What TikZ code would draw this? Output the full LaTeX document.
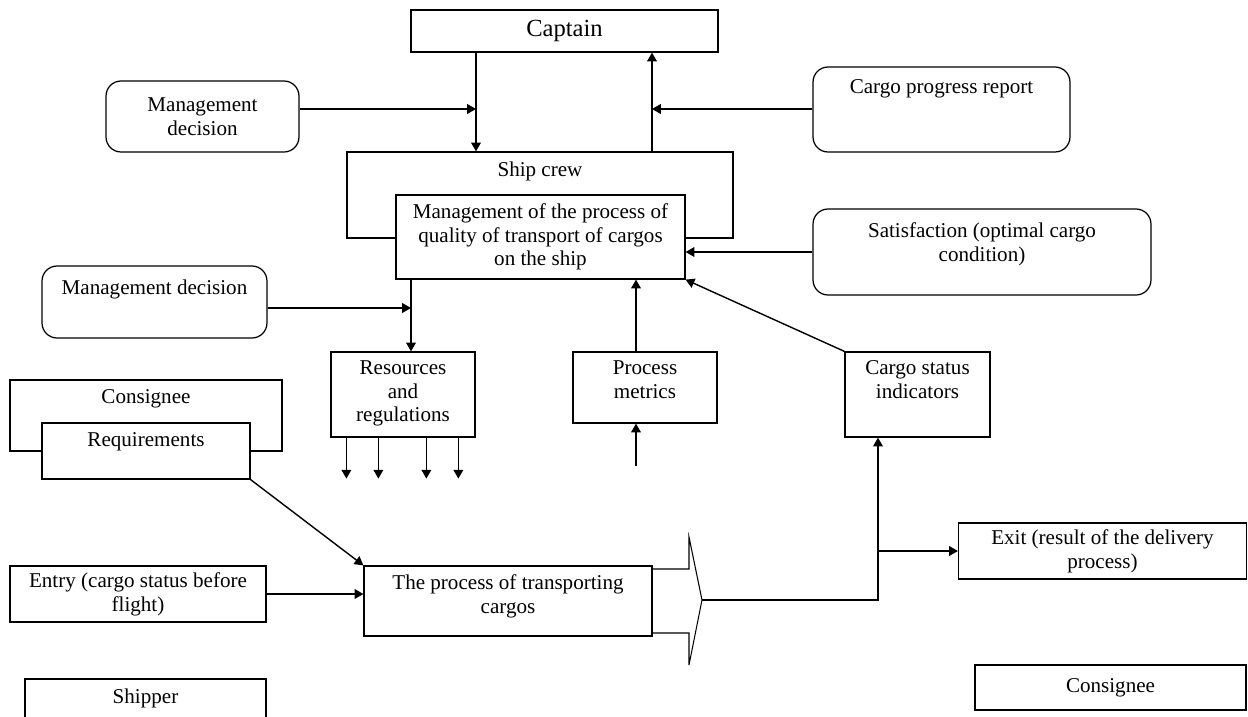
\documentclass[tikz,border=0pt]{standalone}
\usepackage{fontspec}
\setmainfont{Liberation Serif}
\usetikzlibrary{positioning,arrows.meta}

\begin{document}
\begin{tikzpicture}[x=0.02cm,y=-0.02cm,
  box/.style={draw,line width=0.7pt,inner sep=2pt,align=center,font=\fontsize{12}{13.5}\selectfont},
  rbox/.style={box,rounded corners=0.3cm},
  txt/.style={inner sep=0pt,align=center,font=\fontsize{12}{13.5}\selectfont},
  arr/.style={line width=0.8pt,-{Triangle[length=5pt,width=5.5pt]}}]
\useasboundingbox (0,0) rectangle (1248,717);
\node[box,minimum width=6.14cm,minimum height=0.84cm,font=\fontsize{14}{16}\selectfont] (captain) at (564.5,31) {Captain};
\node[rbox,minimum width=3.86cm,minimum height=1.42cm] (mdec1) at (202.5,116.5) {Management\\decision};
\node[rbox,minimum width=5.14cm,minimum height=1.70cm] (report) at (941.5,109.5) {};
\node[txt,below=0.26cm of report.north] (reportt) {Cargo progress report};
\node[box,minimum width=7.72cm,minimum height=1.72cm] (crew) at (540,195) {};
\node[txt,below=0.2cm of crew.north] (crewt) {Ship crew};
\node[box,fill=white,minimum width=5.78cm,minimum height=1.68cm] (mgmt) at (540.5,237) {Management of the process of\\quality of transport of cargos\\on the ship};
\node[rbox,minimum width=6.76cm,minimum height=1.72cm] (satisf) at (982,252) {};
\node[txt,below=0.28cm of satisf.north] (satisft) {Satisfaction (optimal cargo\\condition)};
\node[rbox,minimum width=4.50cm,minimum height=1.44cm] (mdec2) at (154.5,302) {};
\node[txt,below=0.28cm of mdec2.north] (mdec2t) {Management decision};
\node[box,minimum width=2.88cm,minimum height=1.70cm] (res) at (403,394.5) {};
\node[txt,below=0.18cm of res.north] (rest) {Resources\\and\\regulations};
\node[box,minimum width=2.88cm,minimum height=1.42cm] (metrics) at (645,387.5) {};
\node[txt,below=0.18cm of metrics.north] (metricst) {Process\\metrics};
\node[box,minimum width=2.90cm,minimum height=1.70cm] (status) at (917.5,394.5) {};
\node[txt,below=0.18cm of status.north] (statust) {Cargo status\\indicators};
\node[box,minimum width=5.44cm,minimum height=1.42cm] (cons1) at (146,415.5) {};
\node[txt,below=0.2cm of cons1.north] (cons1t) {Consignee};
\node[box,fill=white,minimum width=4.16cm,minimum height=1.12cm] (req) at (146,451) {};
\node[txt,below=0.2cm of req.north] (reqt) {Requirements};
\node[box,minimum width=5.12cm,minimum height=1.12cm] (entry) at (138,594) {Entry (cargo status before\\flight)};
\node[box,minimum width=5.76cm,minimum height=1.40cm] (process) at (508,601) {};
\node[txt,below=0.18cm of process.north] (processt) {The process of transporting\\cargos};
\node[box,minimum width=5.76cm,minimum height=1.12cm] (exit) at (1102.5,551) {Exit (result of the delivery\\process)};
\node[box,minimum width=5.42cm,minimum height=0.90cm] (cons2) at (1110.5,687.5) {Consignee};
\node[box,minimum width=4.82cm,minimum height=1.22cm] (shipper) at (145.5,709.5) {};
\node[txt,below=0.2cm of shipper.north] (shippert) {Shipper};
\coordinate (j1) at (476,109);
\coordinate (j2) at (652,109);
\coordinate (j3) at (411,308);
\coordinate (j4) at (636,466);
\coordinate (j5) at (878,551);
\coordinate (tip) at (702,600);
\draw[arr] (captain.south -| j1) -- (crew.north -| j1);
\draw[arr] (mdec1.east |- j1) -- (j1);
\draw[arr] (crew.north -| j2) -- (captain.south -| j2);
\draw[arr] (report.west |- j2) -- (j2);
\draw[arr] (satisf.west) -- (satisf.west -| mgmt.east);
\draw[arr] (mdec2.east |- j3) -- (j3);
\draw[arr] (mgmt.south -| j3) -- (res.north -| j3);
\draw[arr] (metrics.north -| j4) -- (mgmt.south -| j4);
\draw[arr] (j4) -- (metrics.south -| j4);
\draw[arr] (status.north west) -- (mgmt.south east);
\foreach \dx in {0.32,0.96,1.92,2.56}
  \draw[arr] ([xshift=\dx cm]res.south west) -- ++(0,41);
\draw[arr] (req.south east) -- (process.north west);
\draw[arr] (entry.east) -- (entry.east -| process.west);
\draw[line width=0.6pt] (652,569) -- (689,569) -- (689,537) -- (tip) -- (689,665) -- (689,633) -- (652,633);
\draw[arr] (tip) -| (status.south -| j5);
\draw[arr] (j5) -- (exit.west);
\end{tikzpicture}
\end{document}
